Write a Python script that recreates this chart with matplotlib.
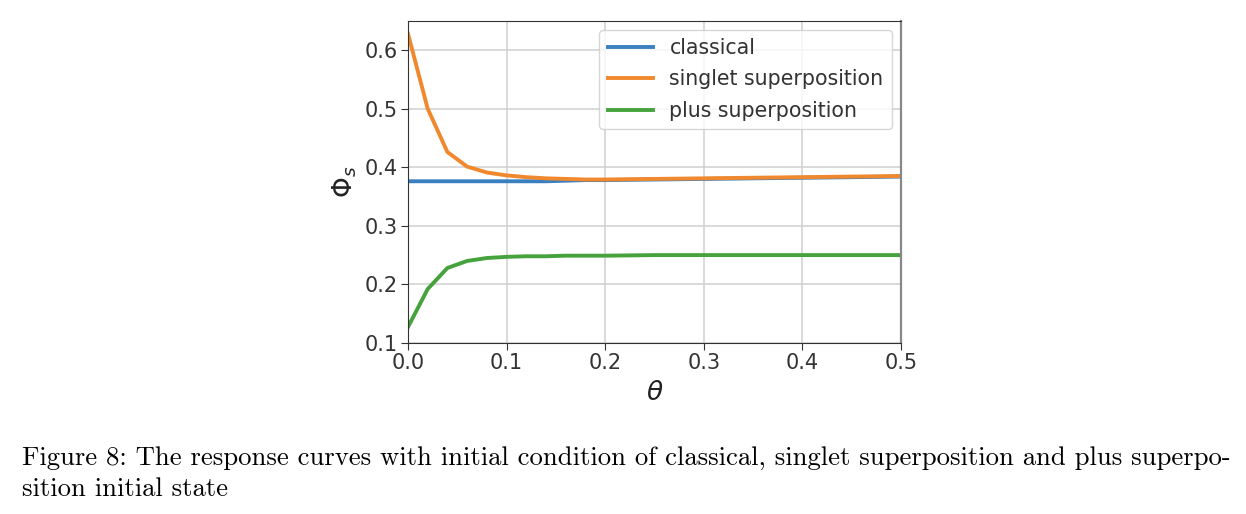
import numpy as np
import matplotlib.pyplot as plt

# 数据
theta = [0.0, 0.02, 0.04, 0.06, 0.08, 0.10, 0.12, 0.14, 0.16, 0.18, 0.20,
         0.25, 0.30, 0.35, 0.40, 0.45, 0.50]
classical = [0.376, 0.376, 0.376, 0.376, 0.376, 0.376, 0.376, 0.376, 0.377, 0.378, 0.378,
             0.379, 0.380, 0.381, 0.382, 0.383, 0.384]
singlet = [0.628, 0.500, 0.426, 0.401, 0.391, 0.386, 0.383, 0.381, 0.380, 0.379, 0.379,
           0.380, 0.381, 0.382, 0.383, 0.384, 0.385]
plus = [0.127, 0.192, 0.228, 0.240, 0.245, 0.247, 0.248, 0.248, 0.249, 0.249, 0.249,
        0.250, 0.250, 0.250, 0.250, 0.250, 0.250]

caption_1 = ("Figure 8: The response curves with initial condition of classical, "
             "singlet superposition and plus superpo-")
caption_2 = "sition initial state"

fig = plt.figure(figsize=(12.46, 5.14), dpi=100)
ax = fig.add_axes([0.3274, 0.3327, 0.3957, 0.6270])

ax.plot(theta, classical, color="#3a7fc0", lw=2.8, label="classical")
ax.plot(theta, singlet, color="#f0892e", lw=2.8, label="singlet superposition")
ax.plot(theta, plus, color="#45a23c", lw=2.8, label="plus superposition")

ax.set_xlim(0, 0.5)
ax.set_ylim(0.1, 0.65)
ax.set_xticks([0.0, 0.1, 0.2, 0.3, 0.4, 0.5])
ax.set_yticks([0.1, 0.2, 0.3, 0.4, 0.5, 0.6])
ax.tick_params(labelsize=15, colors="#333333", length=5, pad=2)
ax.grid(True, color="#cfcfcf", lw=1.1)
for s in ax.spines.values():
    s.set_color("#333333")
ax.spines["right"].set_color("#888888")
ax.spines["right"].set_linewidth(1.6)

ax.set_xlabel(r"$\theta$", fontsize=19, color="#222222", labelpad=5)
ax.set_ylabel(r"$\Phi_s$", fontsize=19, color="#222222", labelpad=4)

leg = ax.legend(loc="upper right", fontsize=14.8, handlelength=2.2,
                borderaxespad=0.45, labelspacing=0.55, borderpad=0.4)
for t in leg.get_texts():
    t.set_color("#333333")

# 图注
fig.text(0.018, 0.0953, caption_1, family="cmr10", fontsize=19.2, color="black",
         va="baseline", ha="left")
fig.text(0.018, 0.0350, caption_2, family="cmr10", fontsize=19.2, color="black",
         va="baseline", ha="left")

fig.savefig("out.png", dpi=100)
